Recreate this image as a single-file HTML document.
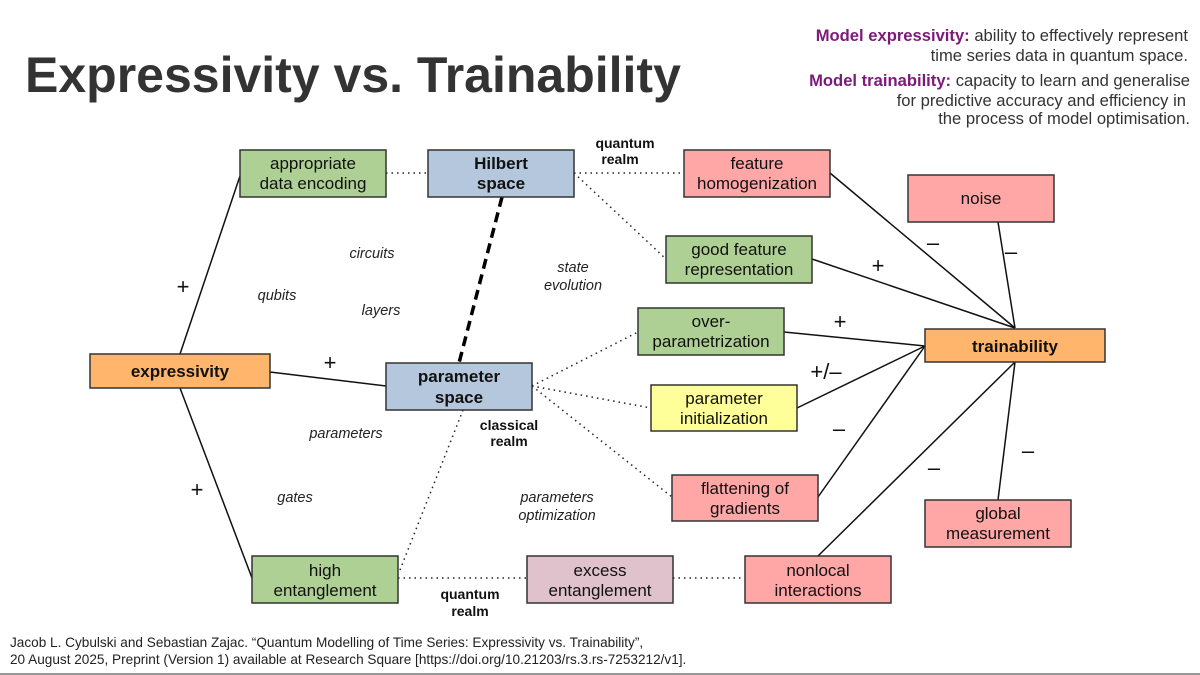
<!DOCTYPE html>
<html><head><meta charset="utf-8"><style>
html,body{margin:0;padding:0;background:#fff}
svg{display:block}
text{font-family:"Liberation Sans",sans-serif}
</style></head><body>
<svg width="1200" height="675" viewBox="0 0 1200 675" xmlns="http://www.w3.org/2000/svg">
<rect width="1200" height="675" fill="#fff"/>
<line x1="0" y1="674" x2="1200" y2="674" stroke="#999" stroke-width="2"/>
<text x="25" y="92" font-size="50" font-weight="bold" fill="#333">Expressivity vs. Trainability</text>
<g font-size="16.6" fill="#333" text-anchor="end">
<text x="1188" y="41"><tspan fill="#7b1a7b" font-weight="bold">Model expressivity:</tspan> ability to effectively represent</text>
<text x="1188" y="61">time series data in quantum space.</text>
<text x="1190" y="86"><tspan fill="#7b1a7b" font-weight="bold">Model trainability:</tspan> capacity to learn and generalise</text>
<text x="1186" y="106">for predictive accuracy and efficiency in</text>
<text x="1190" y="124">the process of model optimisation.</text>
</g>
<g stroke="#111" stroke-width="1.5" fill="none">
<line x1="180" y1="354" x2="240" y2="176"/>
<line x1="270" y1="372" x2="386" y2="386"/>
<line x1="180" y1="388" x2="252" y2="578"/>
<line x1="830" y1="173" x2="1015" y2="328"/>
<line x1="998" y1="222" x2="1015" y2="328"/>
<line x1="812" y1="259" x2="1015" y2="328"/>
<line x1="784" y1="332" x2="925" y2="346"/>
<line x1="797" y1="408" x2="925" y2="346"/>
<line x1="818" y1="497" x2="925" y2="346"/>
<line x1="818" y1="556" x2="1015" y2="362"/>
<line x1="998" y1="500" x2="1015" y2="362"/>
</g>
<g stroke="#222" stroke-width="1.5" fill="none" stroke-dasharray="1.5,4">
<line x1="386" y1="173" x2="428" y2="173"/>
<line x1="574" y1="173" x2="684" y2="173"/>
<line x1="574" y1="173" x2="666" y2="259"/>
<line x1="532" y1="386" x2="638" y2="332"/>
<line x1="532" y1="386" x2="651" y2="408"/>
<line x1="532" y1="386" x2="672" y2="497"/>
<line x1="463" y1="410" x2="400" y2="570"/>
<line x1="398" y1="578" x2="527" y2="578"/>
<line x1="673" y1="578" x2="745" y2="578"/>
</g>
<line x1="502" y1="197" x2="459" y2="363" stroke="#000" stroke-width="3.5" stroke-dasharray="10,6"/>
<g stroke="#333" stroke-width="1.5" font-size="17" text-anchor="middle" fill="#111">
<rect x="240" y="150" width="146" height="47" fill="#afd095"/>
<text x="313" y="169" stroke="none">appropriate</text><text x="313" y="189" stroke="none">data encoding</text>
<rect x="428" y="150" width="146" height="47" fill="#b4c7dc"/>
<text x="501" y="169" stroke="none" font-weight="bold">Hilbert</text><text x="501" y="189" stroke="none" font-weight="bold">space</text>
<rect x="684" y="150" width="146" height="47" fill="#ffa6a6"/>
<text x="757" y="169" stroke="none">feature</text><text x="757" y="189" stroke="none">homogenization</text>
<rect x="908" y="175" width="146" height="47" fill="#ffa6a6"/>
<text x="981" y="204" stroke="none">noise</text>
<rect x="666" y="236" width="146" height="47" fill="#afd095"/>
<text x="739" y="255" stroke="none">good feature</text><text x="739" y="275" stroke="none">representation</text>
<rect x="638" y="308" width="146" height="47" fill="#afd095"/>
<text x="711" y="327" stroke="none">over-</text><text x="711" y="347" stroke="none">parametrization</text>
<rect x="925" y="329" width="180" height="33" fill="#ffb66c"/>
<text x="1015" y="352" stroke="none" font-weight="bold">trainability</text>
<rect x="90" y="354" width="180" height="34" fill="#ffb66c"/>
<text x="180" y="377" stroke="none" font-weight="bold">expressivity</text>
<rect x="386" y="363" width="146" height="47" fill="#b4c7dc"/>
<text x="459" y="382" stroke="none" font-weight="bold">parameter</text><text x="459" y="403" stroke="none" font-weight="bold">space</text>
<rect x="651" y="385" width="146" height="46" fill="#ffff99"/>
<text x="724" y="404" stroke="none">parameter</text><text x="724" y="424" stroke="none">initialization</text>
<rect x="672" y="475" width="146" height="46" fill="#ffa6a6"/>
<text x="745" y="494" stroke="none">flattening of</text><text x="745" y="514" stroke="none">gradients</text>
<rect x="925" y="500" width="146" height="47" fill="#ffa6a6"/>
<text x="998" y="519" stroke="none">global</text><text x="998" y="539" stroke="none">measurement</text>
<rect x="252" y="556" width="146" height="47" fill="#afd095"/>
<text x="325" y="576" stroke="none">high</text><text x="325" y="596" stroke="none">entanglement</text>
<rect x="527" y="556" width="146" height="47" fill="#dfc2cb"/>
<text x="600" y="576" stroke="none">excess</text><text x="600" y="596" stroke="none">entanglement</text>
<rect x="745" y="556" width="146" height="47" fill="#ffa6a6"/>
<text x="818" y="576" stroke="none">nonlocal</text><text x="818" y="596" stroke="none">interactions</text>
</g>
<g font-size="14" text-anchor="middle" fill="#111" font-weight="bold">
<text x="625" y="148">quantum</text><text x="620" y="164">realm</text>
<text x="509" y="430">classical</text><text x="509" y="446">realm</text>
<text x="470" y="599">quantum</text><text x="470" y="616">realm</text>
</g>
<g font-size="14.5" text-anchor="middle" fill="#222" font-style="italic">
<text x="372" y="258">circuits</text>
<text x="277" y="300">qubits</text>
<text x="381" y="315">layers</text>
<text x="573" y="272">state</text><text x="573" y="290">evolution</text>
<text x="346" y="438">parameters</text>
<text x="295" y="502">gates</text>
<text x="557" y="502">parameters</text><text x="557" y="520">optimization</text>
</g>
<g font-size="22" text-anchor="middle" fill="#111">
<text x="183" y="294">+</text>
<text x="330" y="370">+</text>
<text x="197" y="497">+</text>
<text x="878" y="273">+</text>
<text x="840" y="329">+</text>
<text x="826" y="379">+/–</text>
<text x="933" y="250">–</text>
<text x="1011" y="259">–</text>
<text x="839" y="436">–</text>
<text x="934" y="475">–</text>
<text x="1028" y="458">–</text>
</g>
<g font-size="13.6" fill="#222">
<text x="10" y="647">Jacob L. Cybulski and Sebastian Zajac. “Quantum Modelling of Time Series: Expressivity vs. Trainability”,</text>
<text x="10" y="664">20 August 2025, Preprint (Version 1) available at Research Square [https://doi.org/10.21203/rs.3.rs-7253212/v1].</text>
</g>
</svg>
</body></html>
